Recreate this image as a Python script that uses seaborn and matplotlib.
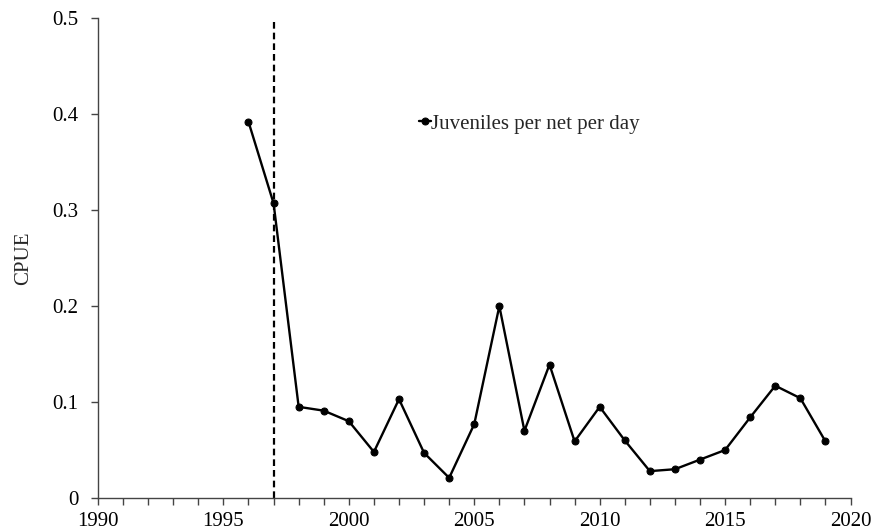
import matplotlib
matplotlib.use("Agg")
import matplotlib.pyplot as plt
import seaborn as sns
import pandas as pd

years = [1996, 1997, 1998, 1999, 2000, 2001, 2002, 2003, 2004, 2005, 2006, 2007,
         2008, 2009, 2010, 2011, 2012, 2013, 2014, 2015, 2016, 2017, 2018, 2019]
cpue = [0.392, 0.307, 0.095, 0.091, 0.080, 0.048, 0.103, 0.047, 0.021, 0.077, 0.200, 0.070,
        0.139, 0.059, 0.095, 0.060, 0.028, 0.030, 0.040, 0.050, 0.084, 0.117, 0.104, 0.059]
series_label = "Juveniles per net per day"
x_ticks = [1990, 1995, 2000, 2005, 2010, 2015, 2020]
y_ticks = [0, 0.1, 0.2, 0.3, 0.4, 0.5]
y_tick_labels = ["0", "0.1", "0.2", "0.3", "0.4", "0.5"]
vline_year = 1997

sns.set_theme(style="ticks")
plt.rcParams['font.family'] = ['Liberation Serif', 'DejaVu Serif']

df = pd.DataFrame({"Year": years, "CPUE": cpue})

fig = plt.figure(figsize=(8.71, 5.32), dpi=100)
ax = fig.add_axes([0.1125, 0.0639, 0.864, 0.902])

sns.lineplot(data=df, x="Year", y="CPUE", ax=ax, color="black", linewidth=1.7,
             marker="o", markersize=5, markeredgecolor="black", label=series_label)
ax.plot([vline_year, vline_year], [0, 0.5], color="black", linestyle=(0, (3, 1.8)), linewidth=1.6)

ax.set_xlim(1990, 2020)
ax.set_ylim(0, 0.5)
ax.set_xticks(x_ticks)
ax.set_xticks(range(1990, 2021), minor=True)
ax.set_yticks(y_ticks)
ax.set_yticklabels(y_tick_labels)
ax.tick_params(axis="both", which="major", labelsize=15, length=5, width=1, color="#444444", colors="black")
ax.tick_params(axis="x", which="minor", length=5, width=1, color="#444444")
ax.tick_params(axis="x", pad=5)
ax.tick_params(axis="y", pad=9)
ax.set_xlabel("")
ax.set_ylabel("CPUE", fontsize=15, labelpad=14)
for s in ["top", "right"]:
    ax.spines[s].set_visible(False)
for s in ["left", "bottom"]:
    ax.spines[s].set_color("#444444")
    ax.spines[s].set_linewidth(1)

leg = ax.legend(loc="center left", bbox_to_anchor=(0.415, 0.78), frameon=False,
                fontsize=15, handlelength=0.6, handletextpad=0.0, borderaxespad=0)

fig.savefig("out.png", dpi=100)
